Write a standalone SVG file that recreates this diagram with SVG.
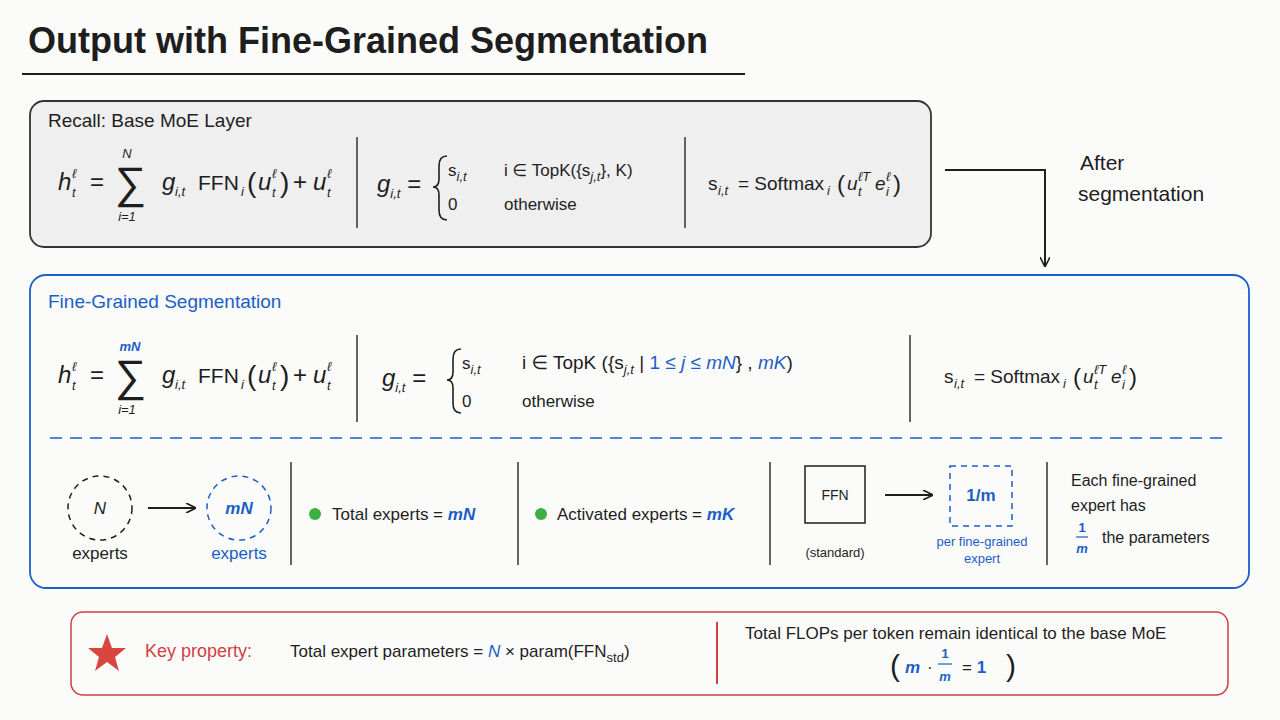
<svg xmlns="http://www.w3.org/2000/svg" width="1280" height="720" viewBox="0 0 1280 720">
<style>
text{font-family:"Liberation Sans","DejaVu Sans",sans-serif;fill:#1e1e1e}
.m{font-size:24px}
.it{font-style:italic}
.b{fill:#1a5fc8}
.s{font-size:13px}
.lbl{font-size:17px}
.f{font-size:19px}
.div{stroke:#333;stroke-width:1.5}
.br{fill:none;stroke:#1e1e1e;stroke-width:1.6}
</style>
<defs>
<marker id="ah" markerWidth="10" markerHeight="10" refX="9" refY="5" orient="auto" markerUnits="userSpaceOnUse"><path d="M0,0 L10,5 L0,10" fill="none" stroke="#1e1e1e" stroke-width="1.6"/></marker>
<g id="hform">
<text x="58" y="0" class="m it">h</text>
<text x="72" y="7" class="s it">t</text>
<text x="72" y="-12" class="s it">ℓ</text>
<text x="90" y="0" class="m">=</text>
<text x="115" y="8" style="font-size:44px;font-weight:200">∑</text>
<text x="127" y="31" class="s it" text-anchor="middle">i=1</text>
<text x="162" y="0" class="m it">g</text>
<text x="175" y="6" class="s it">i,t</text>
<text x="198" y="0" style="font-size:21px">FFN</text>
<text x="241" y="6" class="s it">i</text>
<text x="247" y="2" style="font-size:28px;font-weight:200">(</text>
<text x="258" y="0" class="m it">u</text>
<text x="272" y="7" class="s it">t</text>
<text x="272" y="-12" class="s it">ℓ</text>
<text x="280" y="2" style="font-size:28px;font-weight:200">)</text>
<text x="293" y="0" class="m">+</text>
<text x="313" y="0" class="m it">u</text>
<text x="327" y="7" class="s it">t</text>
<text x="327" y="-12" class="s it">ℓ</text>
</g>
<g id="smform">
<text x="0" y="0" class="f">s</text>
<text x="10" y="5" class="s it">i,t</text>
<text x="30" y="0" class="f">= Softmax</text>
<text x="119" y="5" class="s it">i</text>
<text x="129" y="2" style="font-size:24px;font-weight:200">(</text>
<text x="139" y="0" class="f it">u</text>
<text x="150" y="6" class="s it">t</text>
<text x="150" y="-9" class="s it">ℓT</text>
<text x="167" y="0" class="f it">e</text>
<text x="178" y="6" class="s it">i</text>
<text x="178" y="-9" class="s it">ℓ</text>
<text x="185" y="2" style="font-size:24px;font-weight:200">)</text>
</g>
</defs>
<rect width="1280" height="720" fill="#fbfbfa"/>
<g id="title">
<text x="28" y="53" style="font-size:36px;font-weight:bold">Output with Fine-Grained Segmentation</text>
<line x1="22" y1="74" x2="745" y2="74" stroke="#1e1e1e" stroke-width="2"/>
</g>
<g id="base">
<rect x="30" y="101" width="901" height="146" rx="14" fill="#efefef" stroke="#333" stroke-width="1.8"/>
<text x="48" y="127" style="font-size:19px">Recall: Base MoE Layer</text>
<use href="#hform" transform="translate(0,190)"/>
<text x="127" y="158" class="s it" text-anchor="middle">N</text>
<line x1="357" y1="137" x2="357" y2="228" class="div"/>
<text x="377" y="192" class="m"><tspan class="it">g</tspan><tspan class="s it" dy="6">i,t</tspan><tspan dy="-6"> =</tspan></text>
<path class="br" d="M447,156 Q439,156 439,166 V179 Q439,187 433,187 Q439,187 439,195 V210 Q439,220 447,220"/>
<text x="448" y="176" class="lbl">s<tspan class="s it" dy="5">i,t</tspan></text>
<text x="504" y="176" class="lbl">i ∈ TopK({s<tspan class="s it" dy="5">j,t</tspan><tspan dy="-5">}, K)</tspan></text>
<text x="448" y="210" class="lbl">0</text>
<text x="504" y="210" class="lbl">otherwise</text>
<line x1="685" y1="137" x2="685" y2="228" class="div"/>
<use href="#smform" transform="translate(708,190)"/>
</g>
<g id="after">
<text x="1080" y="170" style="font-size:21px">After</text>
<text x="1078" y="201" style="font-size:21px">segmentation</text>
</g>
<g id="fine">
<rect x="30" y="275" width="1219" height="313" rx="16" fill="#fbfbfa" stroke="#1a5fc8" stroke-width="1.8"/>
<text x="48" y="308" class="b" style="font-size:19px">Fine-Grained Segmentation</text>
<use href="#hform" transform="translate(0,383)"/>
<text x="130" y="351" class="s it b" text-anchor="middle" style="font-weight:bold">mN</text>
<line x1="357" y1="335" x2="357" y2="422" class="div"/>
<text x="382" y="386" class="m"><tspan class="it">g</tspan><tspan class="s it" dy="6">i,t</tspan><tspan dy="-6"> =</tspan></text>
<path class="br" d="M461,349 Q453,349 453,359 V372 Q453,380 447,380 Q453,380 453,388 V403 Q453,413 461,413"/>
<text x="462" y="369" class="lbl">s<tspan class="s it" dy="5">i,t</tspan></text>
<text x="522" y="369" class="f">i ∈ TopK ({s<tspan class="s it" dy="5">j,t</tspan><tspan dy="-5"> | </tspan><tspan class="b">1 ≤ </tspan><tspan class="b it">j</tspan><tspan class="b"> ≤ </tspan><tspan class="b it">mN</tspan><tspan>} , </tspan><tspan class="b it">mK</tspan><tspan>)</tspan></text>
<text x="462" y="407" class="lbl">0</text>
<text x="522" y="407" class="lbl">otherwise</text>
<line x1="910" y1="335" x2="910" y2="422" class="div"/>
<use href="#smform" transform="translate(944,383)"/>
<line x1="50" y1="438" x2="1230" y2="438" stroke="#1a5fc8" stroke-width="1.5" stroke-dasharray="12,8"/>
</g>
<g id="experts-n">
<circle cx="100" cy="508" r="32" fill="none" stroke="#1e1e1e" stroke-width="1.5" stroke-dasharray="6,5"/>
<text x="100" y="514" class="lbl it" text-anchor="middle">N</text>
<text x="100" y="559" class="lbl" text-anchor="middle">experts</text>
</g>
<g id="experts-mn">
<circle cx="239" cy="508" r="32" fill="none" stroke="#1a5fc8" stroke-width="1.5" stroke-dasharray="6,5"/>
<text x="239" y="514" class="lbl it b" text-anchor="middle" style="font-weight:bold">mN</text>
<text x="239" y="559" class="lbl b" text-anchor="middle">experts</text>
</g>
<line x1="291" y1="462" x2="291" y2="565" class="div"/>
<g id="total">
<circle cx="315" cy="514" r="6" fill="#3cb043"/>
<text x="332" y="520" class="lbl">Total experts = <tspan class="b it" style="font-weight:bold">mN</tspan></text>
</g>
<line x1="518" y1="462" x2="518" y2="565" class="div"/>
<g id="activated">
<circle cx="541" cy="514" r="6" fill="#3cb043"/>
<text x="557" y="520" class="lbl">Activated experts = <tspan class="b it" style="font-weight:bold">mK</tspan></text>
</g>
<line x1="770" y1="462" x2="770" y2="565" class="div"/>
<g id="ffn">
<rect x="805" y="466" width="60" height="57" fill="none" stroke="#1e1e1e" stroke-width="1.5"/>
<text x="835" y="500" class="s" text-anchor="middle" style="font-size:14px">FFN</text>
<text x="835" y="557" class="s" text-anchor="middle">(standard)</text>
</g>
<g id="ffn-fine">
<rect x="950" y="466" width="62" height="60" fill="none" stroke="#1a5fc8" stroke-width="1.5" stroke-dasharray="6,5"/>
<text x="981" y="501" class="lbl b" text-anchor="middle" style="font-weight:bold">1/m</text>
<text x="982" y="546" class="s b" text-anchor="middle">per fine-grained</text>
<text x="982" y="563" class="s b" text-anchor="middle">expert</text>
</g>
<line x1="1047" y1="462" x2="1047" y2="565" class="div"/>
<g id="note">
<text x="1071" y="486" style="font-size:16px">Each fine-grained</text>
<text x="1071" y="511" style="font-size:16px">expert has</text>
<text x="1082" y="532" class="s b" text-anchor="middle" style="font-weight:bold">1</text>
<line x1="1076" y1="537" x2="1088" y2="537" stroke="#1a5fc8" stroke-width="1.2"/>
<text x="1082" y="553" class="s b it" text-anchor="middle" style="font-weight:bold">m</text>
<text x="1102" y="543" style="font-size:16px">the parameters</text>
</g>
<g id="connectors">
<path d="M945,170 H1045 V266" fill="none" stroke="#1e1e1e" stroke-width="2" marker-end="url(#ah)"/>
<path d="M148,508 H195" fill="none" stroke="#1e1e1e" stroke-width="1.8" marker-end="url(#ah)"/>
<path d="M885,495 H932" fill="none" stroke="#1e1e1e" stroke-width="1.8" marker-end="url(#ah)"/>
</g>
<g id="key">
<rect x="71" y="612" width="1157" height="83" rx="12" fill="#fbfbfa" stroke="#d04040" stroke-width="1.5"/>
<polygon points="107,634 112,648 126,648 115,657 119,671 107,662 95,671 99,657 88,648 102,648" fill="#d9453f"/>
<text x="145" y="657" style="font-size:18px;fill:#d04040">Key property:</text>
<text x="290" y="657" class="lbl">Total expert parameters = <tspan class="b it">N</tspan> × param(FFN<tspan class="s" dy="5">std</tspan><tspan dy="-5">)</tspan></text>
<line x1="717" y1="622" x2="717" y2="684" stroke="#d04040" stroke-width="2"/>
<text x="745" y="639" class="lbl">Total FLOPs per token remain identical to the base MoE</text>
<text x="890" y="676" style="font-size:30px;font-weight:200">(</text>
<text x="905" y="673" class="lbl b it" style="font-weight:bold">m</text>
<text x="927" y="673" class="lbl">·</text>
<text x="945" y="658" class="s b" text-anchor="middle" style="font-weight:bold">1</text>
<line x1="938" y1="664" x2="952" y2="664" stroke="#1a5fc8" stroke-width="1.2"/>
<text x="945" y="681" class="s b it" text-anchor="middle" style="font-weight:bold">m</text>
<text x="962" y="673" class="lbl">= <tspan class="b" style="font-weight:bold">1</tspan></text>
<text x="1006" y="676" style="font-size:30px;font-weight:200">)</text>
</g>
</svg>
